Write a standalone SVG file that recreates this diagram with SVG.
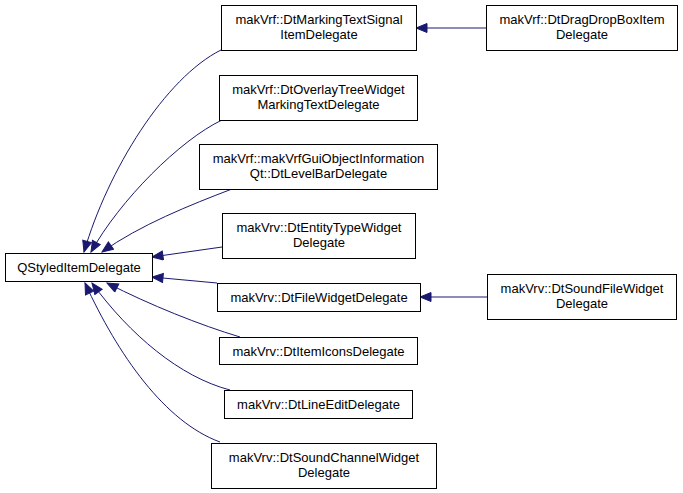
<svg xmlns="http://www.w3.org/2000/svg" width="683" height="493" viewBox="0 0 683 493">
<style>
.n rect{fill:#fff;stroke:#000;stroke-width:1}
.n text{font-family:"Liberation Sans",Arial,sans-serif;font-size:13px;fill:#000;text-anchor:middle}
.e path{fill:none;stroke:#191970;stroke-width:1}
</style>
<defs>
<marker id="ah" markerUnits="userSpaceOnUse" markerWidth="14" markerHeight="12" refX="12" refY="5" orient="auto">
<path d="M1,0.5 L12,5 L1,9.5 z" fill="#191970" stroke="#191970" stroke-width="1"/>
</marker>
</defs>
<rect width="683" height="493" fill="#fff"/>
<g id="edges" class="e">
<path d="M221,50 C165,78 108,170 84,252" marker-end="url(#ah)"/>
<path d="M222,120 C180,140 120,200 91,252" marker-end="url(#ah)"/>
<path d="M232,189 C190,205 140,225 102,252" marker-end="url(#ah)"/>
<path d="M222,247 L152,257" marker-end="url(#ah)"/>
<path d="M217,283 L152,277" marker-end="url(#ah)"/>
<path d="M240,337 C200,325 150,305 107,283" marker-end="url(#ah)"/>
<path d="M230,390 C180,377 130,335 92,283" marker-end="url(#ah)"/>
<path d="M220,442 C165,422 118,355 85,283" marker-end="url(#ah)"/>
<path d="M486,28 L416,28" marker-end="url(#ah)"/>
<path d="M487,297 L420,297" marker-end="url(#ah)"/>
</g>
<g id="root" class="n"><rect x="5.5" y="253.5" width="147" height="28"/><text x="79" y="272">QStyledItemDelegate</text></g>
<g id="n1" class="n"><rect x="221.5" y="5.5" width="195" height="45"/><text x="319" y="23.5">makVrf::DtMarkingTextSignal</text><text x="319" y="39">ItemDelegate</text></g>
<g id="n2" class="n"><rect x="219.5" y="75.5" width="198" height="45"/><text x="318.5" y="93.5">makVrf::DtOverlayTreeWidget</text><text x="318.5" y="109">MarkingTextDelegate</text></g>
<g id="n3" class="n"><rect x="199.5" y="144.5" width="238" height="45"/><text x="318.5" y="162.5">makVrf::makVrfGuiObjectInformation</text><text x="318.5" y="178">Qt::DtLevelBarDelegate</text></g>
<g id="n4" class="n"><rect x="222.5" y="213.5" width="193" height="45"/><text x="319" y="231.5">makVrv::DtEntityTypeWidget</text><text x="319" y="247">Delegate</text></g>
<g id="n5" class="n"><rect x="217.5" y="283.5" width="203" height="28"/><text x="319" y="302">makVrv::DtFileWidgetDelegate</text></g>
<g id="n6" class="n"><rect x="219.5" y="337.5" width="198" height="27"/><text x="318.5" y="355.5">makVrv::DtItemIconsDelegate</text></g>
<g id="n7" class="n"><rect x="224.5" y="390.5" width="188" height="28"/><text x="318.5" y="409">makVrv::DtLineEditDelegate</text></g>
<g id="n8" class="n"><rect x="211.5" y="443.5" width="225" height="45"/><text x="324" y="461.5">makVrv::DtSoundChannelWidget</text><text x="324" y="477">Delegate</text></g>
<g id="n9" class="n"><rect x="486.5" y="5.5" width="191" height="45"/><text x="582" y="23.5">makVrf::DtDragDropBoxItem</text><text x="582" y="39">Delegate</text></g>
<g id="n10" class="n"><rect x="487.5" y="274.5" width="189" height="45"/><text x="582" y="292.5">makVrv::DtSoundFileWidget</text><text x="582" y="308">Delegate</text></g>
</svg>
